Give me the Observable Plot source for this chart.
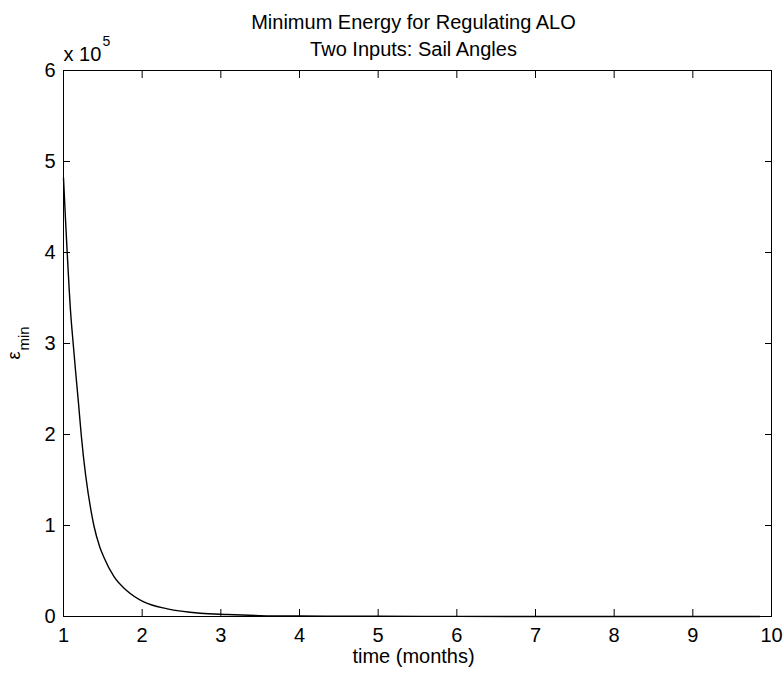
<!DOCTYPE html>
<html>
<head>
<meta charset="utf-8">
<script src="https://cdn.jsdelivr.net/npm/d3@7"></script>
<script src="https://cdn.jsdelivr.net/npm/@observablehq/plot@0.6"></script>
<style>
  body { margin: 0; background: #fff; }
</style>
</head>
<body>
<div id="chart"></div>
<script>
// time (months)
const time = [1, 1.025, 1.047, 1.089, 1.123, 1.153, 1.19, 1.225, 1.386, 1.462, 1.513, 1.64, 1.81, 2.02, 2.32, 2.74, 3.08, 3.5, 4, 5, 6, 7, 8, 9, 9.85];
// minimum energy, in units of 10^5
const energy = [4.82, 4.37, 4.0, 3.36, 3.0, 2.7, 2.35, 2.0, 1.0, 0.762, 0.652, 0.44, 0.28, 0.16, 0.084, 0.036, 0.022, 0.01, 0.005, 0.002, 0.001, 0, 0, 0, 0];
const xTicks = [1, 2, 3, 4, 5, 6, 7, 8, 9, 10];
const yTicks = [0, 1, 2, 3, 4, 5, 6];
const titleLine1 = "Minimum Energy for Regulating ALO";
const titleLine2 = "Two Inputs: Sail Angles";
const xLabel = "time (months)";
const yLabelMain = "ε";
const yLabelSub = "min";
const exponentBase = "x 10";
const exponentPower = "5";

const data = time.map((t, i) => ({t, e: energy[i]}));
const font = "'Liberation Sans', Arial, Helvetica, sans-serif";
const fmt = d => String(d);

const chart = Plot.plot({
  width: 783,
  height: 680,
  marginLeft: 63,
  marginRight: 12,
  marginTop: 70,
  marginBottom: 64,
  style: {fontFamily: font, fontSize: "20px", color: "#000", background: "#fff"},
  x: {domain: [1, 10]},
  y: {domain: [0, 6]},
  marks: [
    Plot.frame({stroke: "#000"}),
    Plot.axisX(xTicks, {anchor: "bottom", tickSize: -7, tickPadding: 18, tickFormat: fmt, fontSize: 20, label: null}),
    Plot.axisX(xTicks, {anchor: "top", tickSize: -7, tickFormat: () => "", label: null}),
    Plot.axisY(yTicks, {anchor: "left", tickSize: -7, tickPadding: 15, tickFormat: fmt, fontSize: 20, label: null}),
    Plot.axisY(yTicks, {anchor: "right", tickSize: -7, tickFormat: () => "", label: null}),
    Plot.line(data, {x: "t", y: "e", stroke: "#000", strokeWidth: 1.4, curve: "monotone-x"}),
    Plot.text([titleLine1], {frameAnchor: "top", lineAnchor: "bottom", dy: -42, dx: -4, fontSize: 20}),
    Plot.text([titleLine2], {frameAnchor: "top", lineAnchor: "bottom", dy: -15, dx: -4, fontSize: 20}),
    Plot.text([xLabel], {frameAnchor: "bottom", lineAnchor: "bottom", dy: 46, dx: -4, fontSize: 20}),
    Plot.text([exponentBase], {frameAnchor: "top-left", textAnchor: "start", lineAnchor: "bottom", dy: -10, dx: 0, fontSize: 20}),
    Plot.text([exponentPower], {frameAnchor: "top-left", textAnchor: "start", lineAnchor: "bottom", dy: -25, dx: 39, fontSize: 14}),
    Plot.text([yLabelMain], {frameAnchor: "left", rotate: -90, textAnchor: "start", lineAnchor: "bottom", dx: -44, dy: 16, fontSize: 18}),
    Plot.text([yLabelSub], {frameAnchor: "left", rotate: -90, textAnchor: "start", lineAnchor: "bottom", dx: -35, dy: 7, fontSize: 15})
  ]
});
document.getElementById("chart").appendChild(chart);
</script>
</body>
</html>
